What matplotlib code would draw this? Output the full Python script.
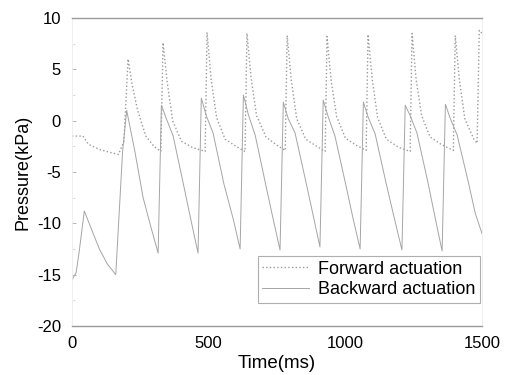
"""Pressure vs time - forward / backward actuation"""
import matplotlib
matplotlib.use('Agg')
import matplotlib.pyplot as plt
from matplotlib.ticker import MultipleLocator

plt.rcParams['font.family'] = ['Liberation Sans', 'DejaVu Sans']
plt.rcParams['axes.unicode_minus'] = False

# Forward actuation (dotted)
t_fwd = [0, 40, 60, 100, 140, 170, 190, 205, 220, 240, 270, 300, 325,
         333, 348, 368, 400, 440, 487,
         494, 509, 529, 560, 600, 633,
         640, 655, 675, 710, 750, 780,
         787, 802, 822, 855, 895, 926,
         933, 948, 968, 1000, 1040, 1076,
         1083, 1098, 1118, 1150, 1195, 1237,
         1244, 1259, 1279, 1310, 1350, 1395,
         1402, 1417, 1437, 1470, 1482, 1490, 1500]
p_fwd = [-1.5, -1.5, -2.3, -2.8, -3.1, -3.3, -2.0, 6.0, 3.5, 1.0, -1.5, -2.5, -3.0,
         7.6, 3.8, 0.0, -2.0, -2.6, -3.0,
         8.6, 4.0, 0.3, -1.8, -2.5, -3.0,
         8.5, 4.2, 0.5, -1.6, -2.4, -2.9,
         8.3, 4.0, 0.2, -1.8, -2.5, -3.0,
         8.2, 3.9, 0.4, -1.7, -2.4, -2.9,
         8.4, 4.1, 0.3, -1.8, -2.6, -3.0,
         8.5, 4.0, 0.5, -1.6, -2.3, -2.9,
         8.3, 4.0, 0.2, -1.8, -2.2, 8.8, 8.5]

# Backward actuation (solid)
t_bwd = [0, 15, 25, 45, 70, 100, 130, 160, 185, 200, 230, 260, 290, 315,
         327, 345, 370, 410, 436, 461,
         473, 491, 516, 556, 590, 615,
         627, 645, 670, 710, 736, 761,
         773, 791, 816, 856, 882, 907,
         919, 937, 962, 1002, 1028, 1054,
         1066, 1084, 1109, 1150, 1180, 1207,
         1219, 1237, 1262, 1302, 1328, 1354,
         1366, 1384, 1409, 1450, 1475, 1500]
p_bwd = [-15.5, -14.8, -13.0, -8.8, -10.5, -12.5, -14.0, -15.0, -3.0, 1.0, -3.0, -7.5, -10.5, -12.9,
         1.5, 0.2, -1.5, -6.5, -9.8, -12.9,
         2.2, 0.5, -1.2, -6.2, -9.6, -12.5,
         2.5, 0.6, -1.4, -6.4, -9.6, -12.6,
         1.8, 0.2, -1.2, -6.0, -9.2, -12.3,
         2.0, 0.4, -1.5, -6.3, -9.5, -12.5,
         1.8, 0.3, -1.3, -6.2, -9.6, -12.6,
         1.5, 0.5, -1.2, -6.0, -9.4, -12.7,
         1.6, 0.2, -1.4, -6.0, -9.0, -11.0]

fig = plt.figure(figsize=(5.09, 3.75), dpi=100)
ax = fig.add_axes([0.1415, 0.1307, 0.8055, 0.8213])

ax.plot(t_fwd, p_fwd, color='#9a9a9a', linestyle=':', linewidth=1.0, label='Forward actuation')
ax.plot(t_bwd, p_bwd, color='#a5a5a5', linestyle='-', linewidth=0.7, label='Backward actuation')

ax.set_xlim(0, 1500)
ax.set_ylim(-20, 10)
ax.xaxis.set_major_locator(MultipleLocator(500))
ax.yaxis.set_major_locator(MultipleLocator(5))
ax.yaxis.set_minor_locator(MultipleLocator(2.5))

for side in ['top', 'bottom']:
    ax.spines[side].set_color('#9a9a9a')
    ax.spines[side].set_linewidth(1.0)
for side in ['left', 'right']:
    ax.spines[side].set_color('#ececec')
    ax.spines[side].set_linewidth(0.6)

ax.tick_params(axis='both', which='major', direction='in', length=3, width=0.6,
               color='#aaaaaa', labelsize=12)
ax.tick_params(axis='y', which='major', pad=8)
ax.tick_params(axis='y', which='minor', direction='in', length=2, width=0.5, color='#cccccc')
ax.tick_params(axis='x', length=0, pad=7)

ax.set_xlabel('Time(ms)', fontsize=13.5, labelpad=3)
ax.set_ylabel('Pressure(kPa)', fontsize=13, labelpad=4)

leg = ax.legend(loc='lower right', bbox_to_anchor=(0.995, 0.075), borderaxespad=0,
                fancybox=False, fontsize=13, handlelength=2.6, handletextpad=0.5,
                borderpad=0.25, labelspacing=0.2)
leg.get_frame().set_edgecolor('#9a9a9a')
leg.get_frame().set_linewidth(0.8)

plt.savefig('out.png', dpi=100)
plt.close()
